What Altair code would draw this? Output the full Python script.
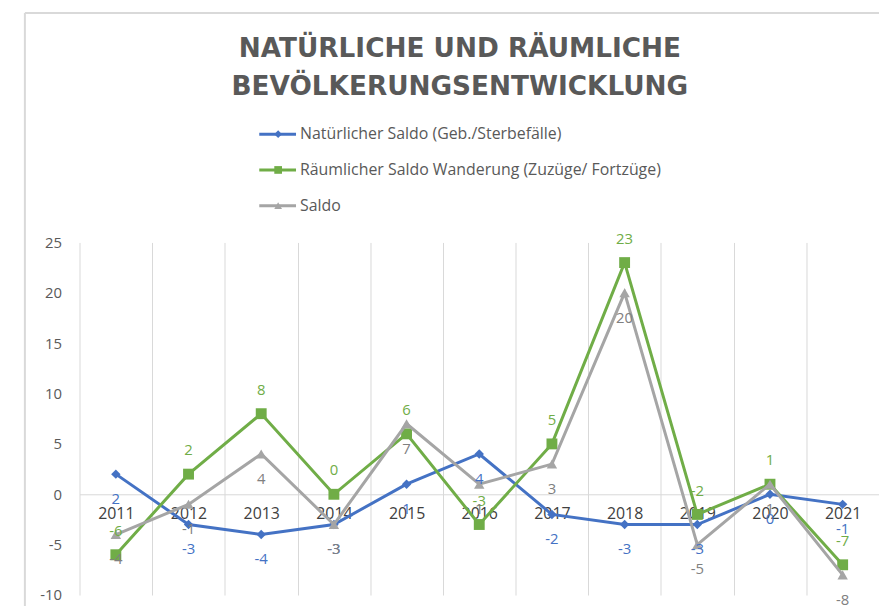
import altair as alt
import pandas as pd

years = ["2011", "2012", "2013", "2014", "2015", "2016", "2017", "2018", "2019", "2020", "2021"]
series = [
    "Natürlicher Saldo (Geb./Sterbefälle)",
    "Räumlicher Saldo Wanderung (Zuzüge/ Fortzüge)",
    "Saldo",
]
natuerlich = [2, -3, -4, -3, 1, 4, -2, -3, -3, 0, -1]
raeumlich = [-6, 2, 8, 0, 6, -3, 5, 23, -2, 1, -7]
saldo = [-4, -1, 4, -3, 7, 1, 3, 20, -5, 1, -8]
title_lines = ["NATÜRLICHE  UND RÄUMLICHE", "BEVÖLKERUNGSENTWICKLUNG"]

line_colors = ["#4472C4", "#70AD47", "#A5A5A5"]
label_colors = ["#4472C4", "#70AD47", "#808080"]
shapes = ["diamond", "square", "triangle-up"]
label_dy = [25, -24, 25]
point_sizes = [90, 120, 110]

rows = []
for s, vals in zip(series, [natuerlich, raeumlich, saldo]):
    for y, v in zip(years, vals):
        rows.append({"Jahr": y, "Serie": s, "Wert": v, "Label": str(v)})
df = pd.DataFrame(rows)

W, H = 805, 355
ZERO_FROM_BOTTOM = H * 10 / 35
FONT = "Open Sans"

x_enc = alt.X(
    "Jahr:O",
    sort=years,
    bandPosition=0.5,
    scale=alt.Scale(type="band", domain=years, paddingInner=0, paddingOuter=0),
    axis=alt.Axis(
        title=None, labelAngle=0, ticks=False, grid=True, tickBand="extent",
        gridColor="#D9D9D9", gridWidth=1, domainColor="#D9D9D9", domainWidth=1,
        labelColor="#404040", labelFont=FONT, labelFontSize=16,
        labelPadding=11, offset=-ZERO_FROM_BOTTOM, zindex=0,
    ),
)
y_enc = alt.Y(
    "Wert:Q",
    scale=alt.Scale(domain=[-10, 25], nice=False, zero=False),
    axis=alt.Axis(
        title=None, grid=False, domain=False, ticks=False,
        values=[-10, -5, 0, 5, 10, 15, 20, 25],
        labelExpr="'' + datum.value",
        labelColor="#595959", labelFont=FONT, labelFontSize=15,
        labelPadding=18,
    ),
)
color_scale = alt.Scale(domain=series, range=line_colors)
shape_scale = alt.Scale(domain=series, range=shapes)

base = alt.Chart(df)
layers = []
for i, s in enumerate(series):
    sub = base.transform_filter(alt.datum.Serie == s)
    layers.append(
        sub.mark_line(strokeWidth=3, color=line_colors[i]).encode(x=x_enc, y=y_enc)
    )
    layers.append(
        sub.mark_point(filled=True, opacity=1, size=point_sizes[i], shape=shapes[i],
                       color=line_colors[i]).encode(x=x_enc, y=y_enc)
    )
for i, s in enumerate(series):
    sub = base.transform_filter(alt.datum.Serie == s)
    layers.append(
        sub.mark_text(font=FONT, fontSize=15, color=label_colors[i],
                      dy=label_dy[i], baseline="middle").encode(
            x=x_enc, y=y_enc, text=alt.Text("Label:N")
        )
    )

main = alt.layer(*layers)

# legend
leg_df = pd.DataFrame({"Serie": series, "row": [0, 1, 2]})
leg_y = alt.Y("row:Q", scale=alt.Scale(domain=[0, 2], range=[-109, -37]), axis=None)
leg_base = alt.Chart(leg_df)
legend = alt.layer(
    leg_base.mark_rule(strokeWidth=3).encode(
        x=alt.value(181), x2=alt.value(218), y=leg_y,
        color=alt.Color("Serie:N", scale=color_scale, legend=None),
    ),
    leg_base.mark_point(filled=True, opacity=1, size=60).encode(
        x=alt.value(200), y=leg_y,
        color=alt.Color("Serie:N", scale=color_scale, legend=None),
        shape=alt.Shape("Serie:N", scale=shape_scale, legend=None),
    ),
    leg_base.mark_text(align="left", baseline="middle", font=FONT,
                       fontSize=16, color="#595959").encode(
        x=alt.value(222), y=leg_y, text="Serie:N"
    ),
)

# title
title_df = pd.DataFrame({"t": title_lines, "line": [0, 1]})
title_layer = alt.Chart(title_df).mark_text(
    align="center", baseline="middle", font="DejaVu Sans", fontWeight="bold",
    fontSize=26.5, color="#595959",
).encode(
    x=alt.value(383),
    y=alt.Y("line:Q", scale=alt.Scale(domain=[0, 1], range=[-195, -156]), axis=None),
    text="t:N",
)

frame_df = pd.DataFrame({"a": [0]})
frame = alt.layer(
    alt.Chart(frame_df).mark_rule(color="#D9D9D9", strokeWidth=2).encode(
        x=alt.value(-55), y=alt.value(-231), y2=alt.value(380)
    ),
    alt.Chart(frame_df).mark_rule(color="#D9D9D9", strokeWidth=2).encode(
        x=alt.value(-55), x2=alt.value(820), y=alt.value(-231)
    ),
)

chart = alt.layer(frame, main, legend, title_layer).resolve_scale(y="independent").properties(
    width=W,
    height=H,
    autosize=alt.AutoSizeParams(type="none"),
    padding={"left": 72, "top": 234, "right": 0, "bottom": 9},
).configure_view(stroke=None)

chart.save("out.html", embed_options={"renderer": "svg", "actions": False})
